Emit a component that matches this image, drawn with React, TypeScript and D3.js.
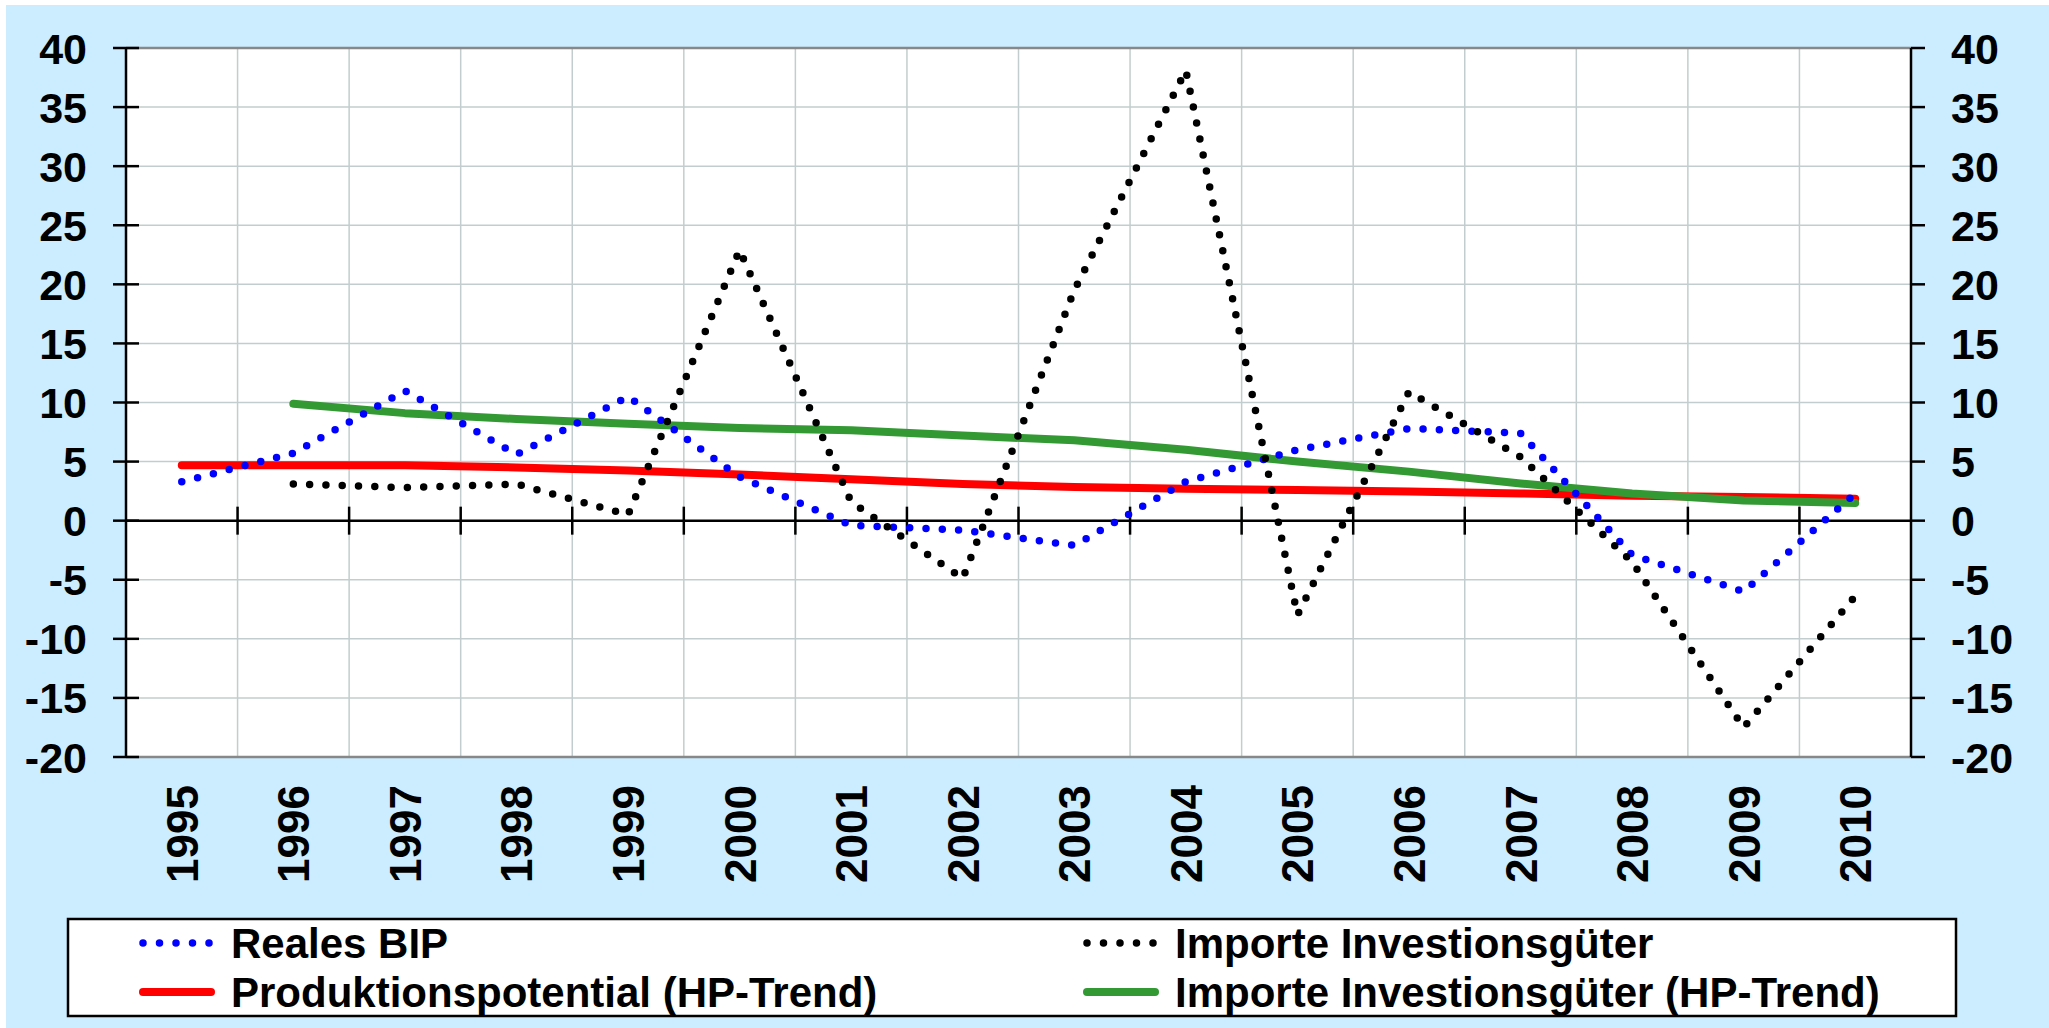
import React from 'react';
import * as d3 from 'd3';

// chart values
const years = ['1995', '1996', '1997', '1998', '1999', '2000', '2001', '2002', '2003', '2004', '2005', '2006', '2007', '2008', '2009', '2010'];
const realesBIP = [3.3, 5.7, 11.0, 5.6, 10.5, 3.7, -0.4, -0.8, -2.1, 3.3, 6.0, 7.8, 7.4, -2.9, -6.0, 2.3];
const importeInv: (number | null)[] = [null, 3.1, 2.8, 3.1, 0.5, 22.9, 1.6, -4.9, 19.5, 38.1, -8.0, 10.9, 5.4, -3.5, -17.5, -6.4];
const produktionsTrend = [4.7, 4.7, 4.7, 4.5, 4.25, 3.9, 3.5, 3.1, 2.85, 2.7, 2.6, 2.47, 2.3, 2.1, 2.0, 1.85];
const importeTrend: (number | null)[] = [null, 9.9, 9.1, 8.6, 8.2, 7.85, 7.65, 7.2, 6.8, 6.0, 5.0, 4.15, 3.15, 2.3, 1.7, 1.5];
const yTicks = [40, 35, 30, 25, 20, 15, 10, 5, 0, -5, -10, -15, -20];

const W = 2049;
const H = 1028;
const plot = { left: 126, right: 1911, top: 48, bottom: 757 };
const font = '"Liberation Sans", Arial, sans-serif';

const x = d3.scaleBand<string>().domain(years).range([plot.left, plot.right]);
const y = d3.scaleLinear().domain([-20, 40]).range([plot.bottom, plot.top]);
const cx = (yr: string) => (x(yr) as number) + x.bandwidth() / 2;

type Pt = { yr: string; v: number | null };
const toPts = (vals: (number | null)[]): Pt[] => years.map((yr, i) => ({ yr, v: vals[i] }));

const line = d3.line<Pt>()
  .defined(d => d.v !== null)
  .x(d => cx(d.yr))
  .y(d => y(d.v as number));

const series = [
  { name: 'Reales BIP', values: realesBIP, color: '#0000FF', dotted: true },
  { name: 'Importe Investionsgüter', values: importeInv, color: '#000000', dotted: true },
  { name: 'Produktionspotential (HP-Trend)', values: produktionsTrend, color: '#FF0000', dotted: false },
  { name: 'Importe Investionsgüter (HP-Trend)', values: importeTrend, color: '#339933', dotted: false },
];

const lineStyle = (dotted: boolean, color: string) =>
  dotted
    ? { stroke: color, strokeWidth: 7.5, strokeDasharray: '0 16.3', strokeLinecap: 'round' as const, strokeLinejoin: 'round' as const, fill: 'none' }
    : { stroke: color, strokeWidth: 8, strokeLinecap: 'round' as const, strokeLinejoin: 'round' as const, fill: 'none' };

// legend placement: two columns, two rows
const legendCols = [140, 1084];
const legendRows = [943, 992];
const legendOrder = [0, 2, 1, 3];

export default function App() {
  const gridColor = '#C3CDCD';
  return (
    <svg width={W} height={H} style={{ position: 'absolute', left: 0, top: 0 }} fontFamily={font}>
      <rect x={0} y={0} width={W} height={H} fill="#ffffff" />
      <rect x={6} y={5} width={W - 6} height={H - 5} fill="#CCECFF" />
      <rect x={plot.left} y={plot.top} width={plot.right - plot.left} height={plot.bottom - plot.top} fill="#ffffff" />

      {/* grid */}
      {yTicks.map(t => (
        <line key={'h' + t} x1={plot.left} x2={plot.right} y1={y(t)} y2={y(t)} stroke={gridColor} strokeWidth={1.5} />
      ))}
      {years.slice(1).map(yr => (
        <line key={'v' + yr} x1={x(yr)} x2={x(yr)} y1={plot.top} y2={plot.bottom} stroke={gridColor} strokeWidth={1.5} />
      ))}
      <line x1={plot.left} x2={plot.right} y1={plot.top} y2={plot.top} stroke="#888888" strokeWidth={2.5} />
      <line x1={plot.left} x2={plot.right} y1={plot.bottom} y2={plot.bottom} stroke="#888888" strokeWidth={2.5} />

      {/* zero line with category ticks */}
      <line x1={plot.left} x2={plot.right} y1={y(0)} y2={y(0)} stroke="#000" strokeWidth={2.5} />
      {years.slice(1).map(yr => (
        <line key={'xt' + yr} x1={x(yr)} x2={x(yr)} y1={y(0) - 14} y2={y(0) + 14} stroke="#000" strokeWidth={2.5} />
      ))}

      {/* left axis */}
      <line x1={plot.left} x2={plot.left} y1={plot.top} y2={plot.bottom} stroke="#000" strokeWidth={2.5} />
      {yTicks.map(t => (
        <g key={'ly' + t}>
          <line x1={plot.left - 13} x2={plot.left + 13} y1={y(t)} y2={y(t)} stroke="#000" strokeWidth={2.5} />
          <text x={87} y={y(t) + 15.5} textAnchor="end" fontSize={43} fontWeight="bold">{t}</text>
        </g>
      ))}

      {/* right axis */}
      <line x1={plot.right} x2={plot.right} y1={plot.top} y2={plot.bottom} stroke="#000" strokeWidth={2.5} />
      {yTicks.map(t => (
        <g key={'ry' + t}>
          <line x1={plot.right} x2={plot.right + 14} y1={y(t)} y2={y(t)} stroke="#000" strokeWidth={2.5} />
          <text x={1951} y={y(t) + 15.5} textAnchor="start" fontSize={43} fontWeight="bold">{t}</text>
        </g>
      ))}

      {/* x labels */}
      {years.map(yr => (
        <text key={'xl' + yr} transform={`translate(${cx(yr)},785) rotate(-90)`} y={16} textAnchor="end" fontSize={44} fontWeight="bold">
          {yr}
        </text>
      ))}

      {/* series */}
      {[2, 3, 0, 1].map(i => {
        const s = series[i];
        return <path key={s.name} d={line(toPts(s.values)) || ''} {...lineStyle(s.dotted, s.color)} />;
      })}

      {/* legend */}
      <rect x={68} y={919} width={1888} height={97} fill="#ffffff" stroke="#000" strokeWidth={2.5} />
      {legendOrder.map((si, k) => {
        const s = series[si];
        const lx = legendCols[Math.floor(k / 2)];
        const ly = legendRows[k % 2];
        return (
          <g key={'lg' + s.name}>
            <line x1={lx + 3} x2={lx + 71} y1={ly} y2={ly} {...lineStyle(s.dotted, s.color)} strokeDasharray={s.dotted ? '0 16.5' : undefined} />
            <text x={lx + 91} y={ly + 15} fontSize={42} fontWeight="bold">{s.name}</text>
          </g>
        );
      })}
    </svg>
  );
}
